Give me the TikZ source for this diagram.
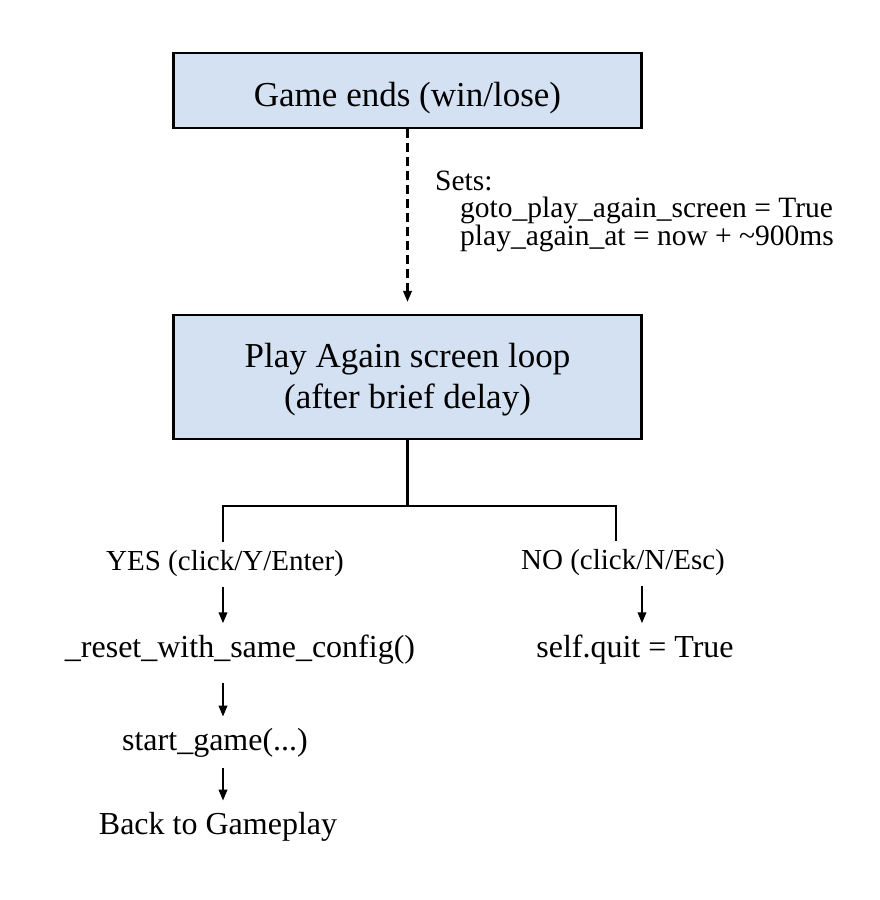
\documentclass[tikz,border=0pt]{standalone}
\usepackage{fontspec}
\setmainfont{Liberation Serif}
\usetikzlibrary{arrows.meta}
\definecolor{boxfill}{RGB}{212,225,242}
\begin{document}
\begin{tikzpicture}[x=1pt,y=-1pt,
  box/.style={draw=black, line width=2.2pt, fill=boxfill, rectangle, inner sep=0pt, minimum width=468pt, align=center},
  big/.style={font=\fontsize{35}{41.5}\selectfont},
  txt/.style={inner xsep=0pt, inner ysep=11pt, font=\fontsize{32}{38}\selectfont},
  lbl/.style={inner xsep=0pt, inner ysep=11pt, font=\fontsize{29}{34}\selectfont},
  conn/.style={line width=2.1pt},
  arr/.style={line width=2.1pt, -{Triangle[length=11pt,width=8.5pt]}}]
\useasboundingbox (0,0) rectangle (880,900);
\fill[white] (0,0) rectangle (880,900);
\node[box, big, minimum height=75pt, text height=31pt, text depth=0pt] (ends) at (407.5,90.5) {Game ends (win/lose)};
\node[box, big, minimum height=124pt] (loop) at (407.5,377) {\rule{0pt}{30pt}Play Again screen loop\\(after brief delay)};
\node[anchor=north west, inner sep=0pt, align=left, font=\fontsize{29.5}{26.5}\selectfont] (sets) at (435,171) {Sets:\\\hspace*{25pt}goto\_play\_again\_screen = True\\\hspace*{25pt}play\_again\_at = now + \textasciitilde900ms};
\draw[arr, dash pattern=on 9pt off 5pt, shorten >=12pt] (ends) -- (loop);
\coordinate (split) at (407.5,506);
\coordinate (colL) at (223,0);
\coordinate (colN) at (616,0);
\coordinate (colQ) at (642,0);
\node[lbl, anchor=base] (yes) at (225,570) {YES (click/Y/Enter)};
\node[lbl, anchor=base] (no) at (623,569) {NO (click/N/Esc)};
\node[txt, anchor=base] (reset) at (240,657) {\_reset\_with\_same\_config()};
\node[txt, anchor=base] (quit) at (635,657) {self.quit = True};
\node[txt, anchor=base] (start) at (215,750) {start\_game(...)};
\node[txt, anchor=base] (back) at (218,834) {Back to Gameplay};
\draw[conn] (loop.south) -- (split);
\draw[conn, shorten <=-3pt, shorten >=-3pt] (yes.north -| colL) |- (split) -| (no.north -| colN);
\draw[arr] (yes.south -| colL) -- (reset.north -| colL);
\draw[arr] (no.south -| colQ) -- (quit.north -| colQ);
\draw[arr, shorten <=8pt] (reset.south -| colL) -- (start.north -| colL);
\draw[arr] (start.south -| colL) -- (back.north -| colL);
\end{tikzpicture}
\end{document}
